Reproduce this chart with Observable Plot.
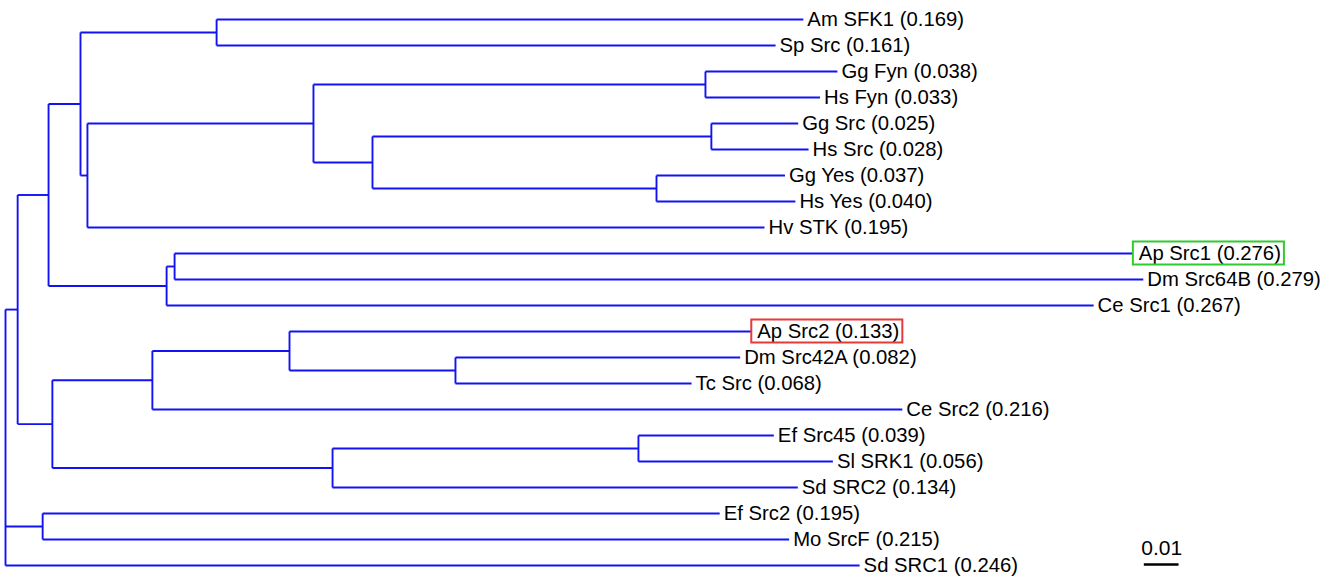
<!DOCTYPE html>
<html>
<head>
<meta charset="utf-8">
<script src="https://cdn.jsdelivr.net/npm/d3@7"></script>
<script src="https://cdn.jsdelivr.net/npm/@observablehq/plot@0.6"></script>
<style>
  html, body { margin: 0; padding: 0; background: #fff; }
  #chart svg { overflow: visible; }
</style>
</head>
<body>
<div id="chart"></div>
<script>
// ---- Data ----
// Leaves, top to bottom, with terminal branch lengths (shown in labels)
const leafNames = [
  "Am SFK1", "Sp Src", "Gg Fyn", "Hs Fyn", "Gg Src", "Hs Src", "Gg Yes", "Hs Yes",
  "Hv STK", "Ap Src1", "Dm Src64B", "Ce Src1", "Ap Src2", "Dm Src42A", "Tc Src",
  "Ce Src2", "Ef Src45", "Sl SRK1", "Sd SRC2", "Ef Src2", "Mo SrcF", "Sd SRC1"
];
const leafLengths = [
  0.169, 0.161, 0.038, 0.033, 0.025, 0.028, 0.037, 0.040,
  0.195, 0.276, 0.279, 0.267, 0.133, 0.082, 0.068,
  0.216, 0.039, 0.056, 0.134, 0.195, 0.215, 0.246
];
const leafParents = [
  "N4", "N4", "N7", "N7", "N9", "N9", "N10", "N10",
  "N5", "N12", "N12", "N11", "N15", "N16", "N16",
  "N14", "N18", "N18", "N17", "N19", "N19", "root"
];
// Internal nodes (parents listed before children), with branch lengths (estimated)
const nodeIds = ["root", "N1", "N2", "N3", "N4", "N5", "N6", "N7", "N8", "N9", "N10",
  "N11", "N12", "N13", "N14", "N15", "N16", "N17", "N18", "N19"];
const nodeParents = [null, "root", "N1", "N2", "N3", "N3", "N5", "N6", "N6", "N8", "N8",
  "N2", "N11", "N1", "N13", "N14", "N15", "N13", "N17", "root"];
const nodeLengths = [0, 0.0035, 0.0089, 0.0092, 0.0392, 0.0020, 0.0651, 0.1129, 0.0170, 0.0976, 0.0818,
  0.0340, 0.0023, 0.0100, 0.0288, 0.0395, 0.0478, 0.0807, 0.0881, 0.0107];

const highlightNames = ["Ap Src1", "Ap Src2"];
const highlightColors = ["#2fcb2f", "#e53a3a"];
const scaleBarLength = 0.01;
const scaleBarLabel = "0.01";
const scaleBarStart = 0.328;

// ---- Build tree geometry ----
const depth = new Map();
nodeIds.forEach((id, i) => {
  const p = nodeParents[i];
  depth.set(id, p == null ? 0 : depth.get(p) + nodeLengths[i]);
});
const children = new Map(nodeIds.map(id => [id, []]));
nodeIds.forEach((id, i) => { if (nodeParents[i]) children.get(nodeParents[i]).push({type: "node", id}); });
const leaves = leafNames.map((name, i) => ({
  name, len: leafLengths[i], parent: leafParents[i], y: i,
  depth: depth.get(leafParents[i]) + leafLengths[i],
  label: `${name} (${leafLengths[i].toFixed(3)})`
}));
leaves.forEach(l => children.get(l.parent).push({type: "leaf", leaf: l}));

const nodeY = new Map();
const verticals = [];
function yOf(c) {
  if (c.type === "leaf") return c.leaf.y;
  return computeY(c.id);
}
function computeY(id) {
  if (nodeY.has(id)) return nodeY.get(id);
  const ys = children.get(id).map(yOf);
  const lo = d3.min(ys), hi = d3.max(ys);
  verticals.push({x: depth.get(id), y1: lo, y2: hi});
  const y = (lo + hi) / 2;
  nodeY.set(id, y);
  return y;
}
computeY("root");

const horizontals = [];
nodeIds.forEach((id, i) => {
  const p = nodeParents[i];
  if (p) horizontals.push({x1: depth.get(p), x2: depth.get(id), y: nodeY.get(id)});
});
leaves.forEach(l => horizontals.push({x1: depth.get(l.parent), x2: l.depth, y: l.y}));

const normalLeaves = leaves.filter(l => !highlightNames.includes(l.name));
const boxedLeaves = leaves.filter(l => highlightNames.includes(l.name));

const W = 1323, H = 576;
const pxPerUnit = 3472;
const stroke = "#1212f2";
const font = "'Liberation Sans', Arial, Helvetica, sans-serif";
const labelDx = 4, boxedDx = 6;

const plot = Plot.plot({
  width: W,
  height: H,
  margin: 0,
  style: {fontFamily: font, background: "#fff", overflow: "visible"},
  x: {domain: [0, (W - 5) / pxPerUnit], range: [5, W], axis: null},
  y: {domain: [0, 21], range: [19, 565], axis: null},
  marks: [
    Plot.link(horizontals, {x1: "x1", x2: "x2", y1: "y", y2: "y", stroke, strokeWidth: 1.9}),
    Plot.link(verticals, {x1: "x", x2: "x", y1: "y1", y2: "y2", stroke, strokeWidth: 1.9}),
    Plot.text(normalLeaves, {x: "depth", y: "y", text: "label", textAnchor: "start", dx: labelDx,
      fontSize: 20.3, fill: "#000"}),
    Plot.text(boxedLeaves, {x: "depth", y: "y", text: "label", textAnchor: "start", dx: boxedDx,
      fontSize: 20.3, fill: "#000"}),
    Plot.ruleY([21], {x1: scaleBarStart, x2: scaleBarStart + scaleBarLength, stroke: "#000", strokeWidth: 2.4, dy: -1}),
    Plot.text([scaleBarLabel], {x: scaleBarStart + scaleBarLength / 2, y: 21, text: d => d, dy: -17,
      fontSize: 21, fill: "#000"})
  ]
});
document.getElementById("chart").appendChild(plot);

// Outline boxes around highlighted labels (positioned from the rendered text)
const svgNS = "http://www.w3.org/2000/svg";
const boxedLabels = boxedLeaves.map(l => l.label);
Array.from(plot.querySelectorAll("text")).forEach(t => {
  const idx = boxedLabels.indexOf(t.textContent.trim());
  if (idx < 0) return;
  const leaf = boxedLeaves[idx];
  const bb = t.getBBox();
  const m = t.getCTM && plot.getCTM ? null : null;
  // bbox in the text's own coordinate system; convert via transform to svg coords
  const ctm = t.getScreenCTM();
  const svgCtm = plot.getScreenCTM();
  let x = bb.x, y = bb.y;
  if (ctm && svgCtm) {
    const inv = svgCtm.inverse().multiply(ctm);
    x = inv.a * bb.x + inv.c * bb.y + inv.e;
    y = inv.b * bb.x + inv.d * bb.y + inv.f;
  }
  const ci = highlightNames.indexOf(leaf.name);
  const x0 = x - boxedDx;
  const yc = y + bb.height / 2;
  const r = document.createElementNS(svgNS, "rect");
  r.setAttribute("x", x0);
  r.setAttribute("y", yc - 11.5);
  r.setAttribute("width", bb.width + boxedDx + 3);
  r.setAttribute("height", 23);
  r.setAttribute("fill", "none");
  r.setAttribute("stroke", highlightColors[ci]);
  r.setAttribute("stroke-width", 2);
  plot.appendChild(r);
});
</script>
</body>
</html>
